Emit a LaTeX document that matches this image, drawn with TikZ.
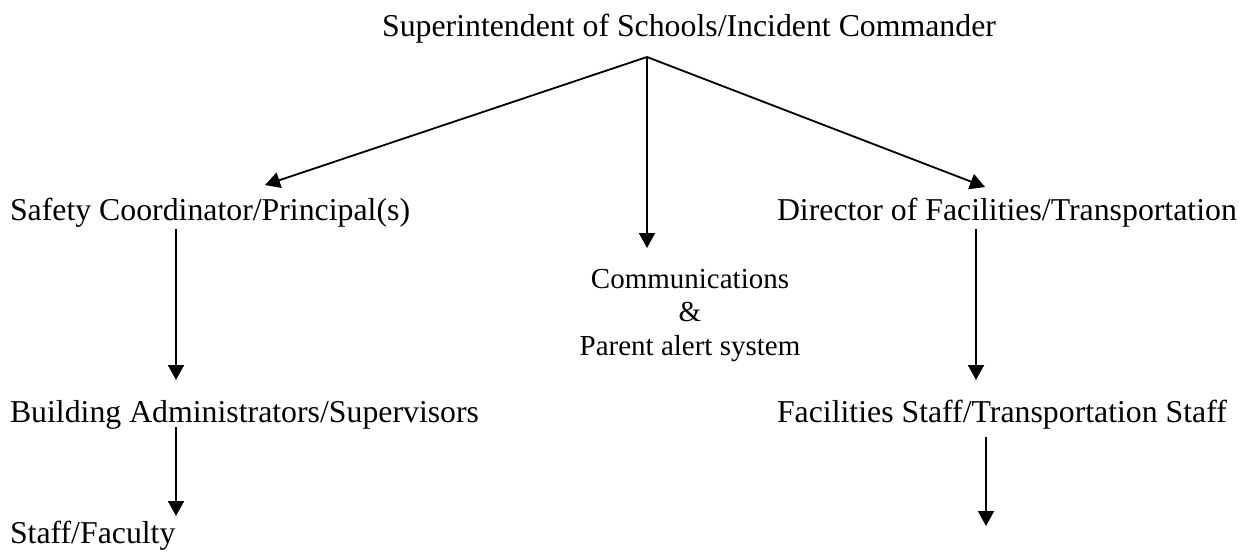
\documentclass[tikz,border=0pt]{standalone}
\usepackage{fontspec}
\setmainfont{Liberation Serif}
\usetikzlibrary{arrows.meta}
\begin{document}
\begin{tikzpicture}[x=1pt,y=-1pt,
  lbl/.style={inner sep=0pt,outer sep=0pt,font=\fontsize{31.8}{38}\selectfont},
  smalllbl/.style={inner sep=0pt,outer sep=0pt,align=center,font=\fontsize{29}{33.5}\selectfont},
  arr/.style={line width=1.8pt,-{Triangle[length=15pt,width=16pt]}}]
\useasboundingbox (0,0) rectangle (1247,552);
% nodes
\node[lbl,anchor=base] (top) at (689,36) {Superintendent of Schools/Incident Commander};
\node[lbl,anchor=base west] (safety) at (10,220) {Safety Coordinator/Principal(s)};
\node[lbl,anchor=base west] (director) at (777,220) {Director of Facilities/Transportation};
\node[smalllbl,anchor=base] (comm) at (690,355) {Communications\\\&\\Parent alert system};
\node[lbl,anchor=base west] (building) at (10,422) {Building Administrators/Supervisors};
\node[lbl,anchor=base west] (facilities) at (777,422) {Facilities Staff/Transportation Staff};
\node[lbl,anchor=base west] (staff) at (10,543) {Staff/Faculty};
% connector end points
\coordinate (apex) at (647,57);
\coordinate (tipsafety) at (265,185);
\coordinate (tipcomm) at (647,248);
\coordinate (tipdirector) at (985,187);
\coordinate (safetyout) at (176,229);
\coordinate (buildingin) at (176,380);
\coordinate (directorout) at (976,229);
\coordinate (facilitiesin) at (976,380);
\coordinate (buildingout) at (176,427);
\coordinate (staffin) at (176,516);
\coordinate (facilitiesout) at (986,437);
\coordinate (facilitiesend) at (986,526);
% connectors
\draw[arr] (apex) -- (tipsafety);
\draw[arr] (apex) -- (tipcomm);
\draw[arr] (apex) -- (tipdirector);
\draw[arr] (safetyout) -- (buildingin);
\draw[arr] (directorout) -- (facilitiesin);
\draw[arr] (buildingout) -- (staffin);
\draw[arr] (facilitiesout) -- (facilitiesend);
\end{tikzpicture}
\end{document}
